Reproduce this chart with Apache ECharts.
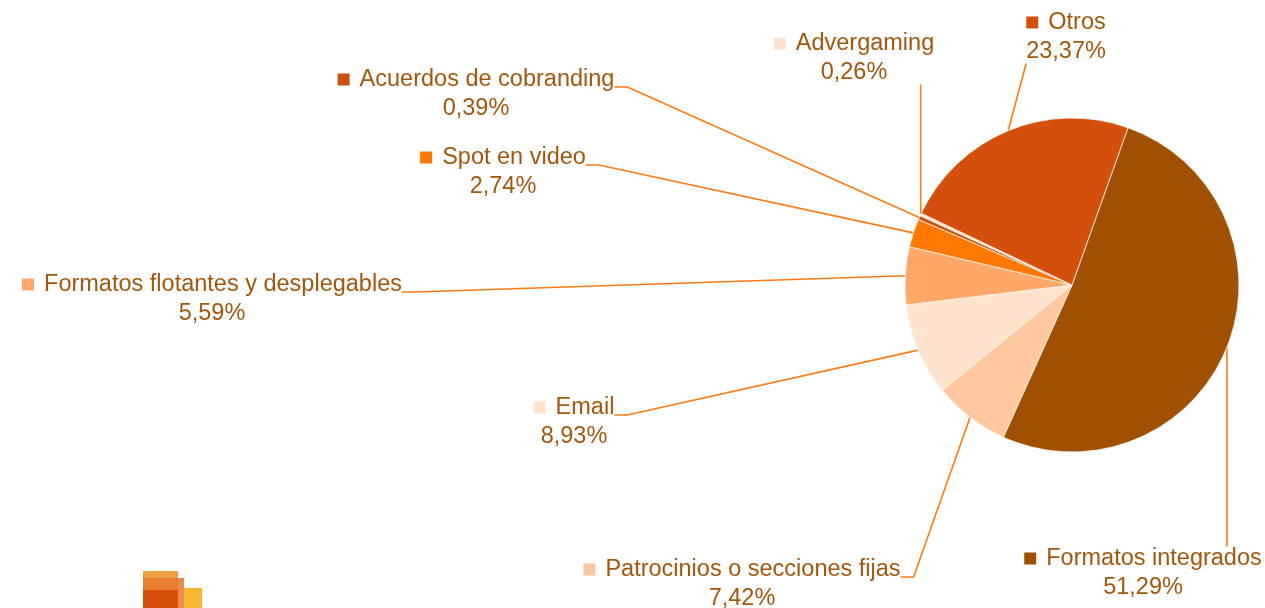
<!DOCTYPE html>
<html>
<head>
<meta charset="utf-8">
<script src="https://cdn.jsdelivr.net/npm/echarts@6/dist/echarts.min.js"></script>
<style>
  html, body { margin: 0; padding: 0; background: #fff; }
  #chart { width: 1265px; height: 608px; }
</style>
</head>
<body>
<div id="chart"></div>
<script>
// datos del gráfico (orden de las porciones, en sentido horario)
const categories = [
  'Formatos integrados',
  'Patrocinios o secciones fijas',
  'Email',
  'Formatos flotantes y desplegables',
  'Spot en video',
  'Acuerdos de cobranding',
  'Advergaming',
  'Otros'
];
const shares = [51.29, 7.42, 8.93, 5.59, 2.74, 0.39, 0.26, 23.37];

const sliceColors = ['#A05000', '#FFC8A0', '#FFE3CC', '#FFA868', '#FF7800', '#CC500C', '#FDE2CE', '#D4500A'];
// centro de cada etiqueta (colocadas a mano como en el original)
const labelCenters = [[1143, 573], [742, 584], [574, 422], [212, 299], [503, 172], [476, 94], [854, 58], [1066, 37]];

const textColor = '#A3570B';
const lineColor = '#FF7A12';

const rich = {
  g: { width: 10 },
  n: { fontSize: 23.5, color: textColor, lineHeight: 29 },
  v: { fontSize: 23.5, color: textColor, lineHeight: 29 }
};
sliceColors.forEach((c, i) => {
  rich['m' + i] = { width: 12, height: 12, backgroundColor: c };
});

const fmtPct = (v) => v.toFixed(2).replace('.', ',') + '%';

const chart = echarts.init(document.getElementById('chart'));

chart.setOption({
  animation: false,
  textStyle: { fontFamily: 'Liberation Sans, Arial, sans-serif' },
  series: [{
    type: 'pie',
    center: [1072, 285],
    radius: 167,
    startAngle: 70.4,
    clockwise: true,
    avoidLabelOverlap: false,
    itemStyle: { borderColor: '#fff6ee', borderWidth: 0.8 },
    label: {
      show: true,
      position: 'outside',
      formatter: (p) => `{m${p.dataIndex}|}{g|}{n|${p.name}}\n{v|${fmtPct(p.value)}}`,
      rich: rich
    },
    labelLine: { show: true, length: 10, length2: 10, lineStyle: { color: lineColor, width: 1.6 } },
    labelLayout: function (p) {
      const c = labelCenters[p.dataIndex];
      const w = p.labelRect.width, h = p.labelRect.height;
      const left = c[0] - w / 2, right = c[0] + w / 2;
      const top = c[1] - h / 2, bottom = c[1] + h / 2;
      const p0 = p.labelLinePoints[0];
      let end, mid;
      if (p0[0] > right + 12) {
        // enganche en el lado derecho, a la altura de la primera línea
        end = [right, c[1] - 7];
        mid = [right + 13, c[1] - 7];
      } else {
        end = [Math.min(Math.max(p0[0], left), right), Math.min(Math.max(p0[1], top), bottom)];
        mid = end;
      }
      return {
        x: c[0], y: c[1], align: 'center', verticalAlign: 'middle',
        labelLinePoints: [p0, mid, end]
      };
    },
    data: categories.map((name, i) => ({
      name: name,
      value: shares[i],
      itemStyle: { color: sliceColors[i] }
    }))
  }],
  // logotipo de la esquina inferior izquierda
  graphic: [
    { type: 'rect', shape: { x: 143, y: 571, width: 35, height: 37 }, style: { fill: '#EFA040' } },
    { type: 'rect', shape: { x: 143, y: 578, width: 41, height: 30 }, style: { fill: '#E8782A', opacity: 0.85 } },
    { type: 'rect', shape: { x: 184, y: 588, width: 18, height: 20 }, style: { fill: '#F5B82E' } },
    { type: 'rect', shape: { x: 143, y: 590, width: 35, height: 18 }, style: { fill: '#D6500A' } }
  ]
});

window.addEventListener('resize', () => chart.resize());
</script>
</body>
</html>
